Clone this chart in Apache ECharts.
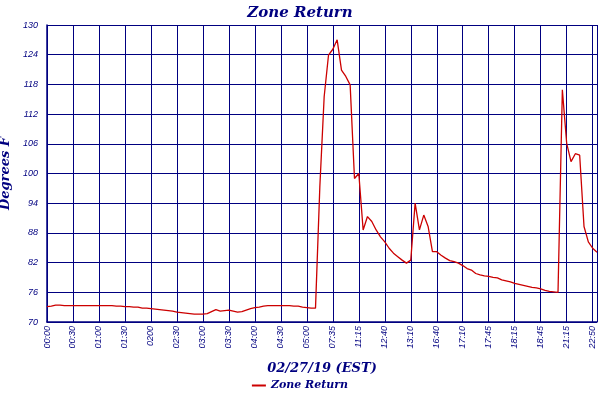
<!DOCTYPE html>
<html><head><meta charset="utf-8">
<script src="https://cdn.jsdelivr.net/npm/echarts@6/dist/echarts.min.js"></script>
<style>html,body{margin:0;padding:0;background:#fff}#c{width:600px;height:400px}</style>
</head><body><div id="c"></div>
<script>
// Tick labels: one every 6 samples, plus the last sample
const tickLabels = ['00:00','00:30','01:00','01:30','0200','02:30','03:00','03:30','04:00','04:30','05:00','07:35','11:15','12:40','13:10','16:40','17:10','17:45','18:15','18:45','21:15','22:50'];
const lastLabel = '22:55';
const zoneReturn = [
73.1,73.2,73.4,73.4,73.3,73.3,73.3,73.3,73.3,73.3,73.3,73.3,73.3,73.3,73.3,73.3,
73.2,73.2,73.1,73.1,73.0,73.0,72.8,72.8,72.7,72.6,
72.5,72.4,72.3,72.2,72.0,71.9,71.8,71.7,71.6,71.6,
71.6,71.7,72.1,72.5,72.2,72.3,72.4,72.2,72.0,72.1,72.4,72.7,72.9,73.0,73.2,73.3,
73.3,73.3,73.3,73.3,73.3,73.2,73.2,73.0,72.9,72.8,
72.8,97.3,115.5,123.9,125.1,127.0,120.9,119.6,117.9,99.0,100.0,88.6,91.3,90.3,88.6,87.2,
86.2,84.9,83.9,83.2,82.5,81.9,82.5,94.0,88.6,91.6,89.3,84.2,84.2,83.5,82.9,82.4,
82.2,81.9,81.4,80.8,80.5,79.8,79.5,79.3,79.2,79.0,78.9,78.5,78.3,78.1,77.8,77.6,
77.4,77.2,77.0,76.9,76.7,76.4,76.2,76.1,76.0,116.9,106.1,102.4,104.0,103.7,89.3,86.2,
84.9,84.1
];
const categories = zoneReturn.map((v,i)=> i%6===0 ? (tickLabels[i/6]||'') : (i===zoneReturn.length-1 ? lastLabel : ''));
const isTick = i => i%6===0 || i===zoneReturn.length-1;
const navy = '#000080';
const chart = echarts.init(document.getElementById('c'));
chart.setOption({
  animation:false,
  backgroundColor:'#fff',
  title:{text:'Zone Return',left:'center',top:1,textStyle:{color:navy,fontSize:15,fontStyle:'italic',fontWeight:'bold',fontFamily:'DejaVu Serif'}},
  legend:{bottom:4,left:'center',itemWidth:14,itemHeight:2,icon:'rect',data:['Zone Return'],
    textStyle:{color:navy,fontSize:11,fontStyle:'italic',fontWeight:'bold',fontFamily:'DejaVu Serif'}},
  grid:{left:47,right:3,top:25,bottom:78,containLabel:false,outerBoundsMode:'none'},
  xAxis:{type:'category',data:categories,boundaryGap:false,
    name:'02/27/19 (EST)',nameLocation:'middle',nameGap:40,
    nameTextStyle:{color:navy,fontSize:13,fontStyle:'italic',fontWeight:'bold',fontFamily:'DejaVu Serif'},
    axisLine:{lineStyle:{color:navy,width:1.5}},axisTick:{show:false},
    axisLabel:{interval:isTick,rotate:90,color:navy,fontSize:9,fontStyle:'italic',fontFamily:'Liberation Sans',margin:4,hideOverlap:false},
    splitLine:{show:true,interval:isTick,lineStyle:{color:navy,width:1}}},
  yAxis:{type:'value',min:70,max:130,interval:6,
    name:'Degrees F',nameLocation:'middle',nameGap:34,
    nameTextStyle:{color:navy,fontSize:13,fontStyle:'italic',fontWeight:'bold',fontFamily:'DejaVu Serif'},
    axisLine:{show:true,lineStyle:{color:navy,width:1.5}},axisTick:{show:false},
    axisLabel:{color:navy,fontSize:9,fontStyle:'italic',fontFamily:'Liberation Sans',margin:9},
    splitLine:{lineStyle:{color:navy,width:1}}},
  series:[{name:'Zone Return',type:'line',data:zoneReturn,symbol:'none',
    lineStyle:{color:'#cc0000',width:1.3},itemStyle:{color:'#cc0000'}}]
});
</script></body></html>
